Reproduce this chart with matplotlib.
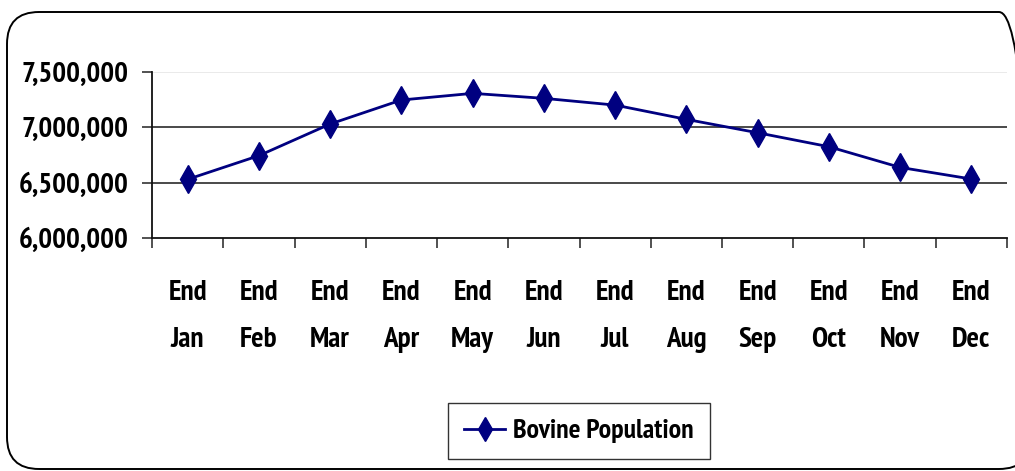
import matplotlib
matplotlib.use("Agg")
import matplotlib.pyplot as plt
from matplotlib.patches import FancyBboxPatch
from matplotlib.ticker import FuncFormatter, FixedLocator
from matplotlib import font_manager

months = ["Jan", "Feb", "Mar", "Apr", "May", "Jun",
          "Jul", "Aug", "Sep", "Oct", "Nov", "Dec"]
categories = ["End\n" + m for m in months]
population = [6530000, 6744000, 7030000, 7247000, 7307000, 7262000,
              7201000, 7072000, 6951000, 6825000, 6638000, 6533000]
y_ticks = [6000000, 6500000, 7000000, 7500000]
series_name = "Bovine Population"

available = {f.name for f in font_manager.fontManager.ttflist}
family = "DejaVu Sans"
for cand in ["PT Sans Narrow", "Roboto Condensed", "Open Sans Condensed",
             "Liberation Sans Narrow", "Arimo"]:
    if cand in available:
        family = cand
        break
plt.rcParams["font.family"] = [family, "DejaVu Sans"]
plt.rcParams["font.weight"] = "bold"

W, H = 1015, 471
fig = plt.figure(figsize=(W / 100, H / 100), dpi=100)

# rounded outer frame (coordinates in inches, 100 px per inch)
frame = FancyBboxPatch((0.07, 0.02), 10.24, 4.57,
                       boxstyle="round,pad=0,rounding_size=0.32",
                       transform=fig.dpi_scale_trans, fill=False,
                       edgecolor="black", linewidth=1.4)
fig.patches.append(frame)

ax = fig.add_axes([152 / W, 1 - 238 / H, (1007 - 152) / W, (238 - 72) / H])
x = list(range(len(categories)))
ax.plot(x, population, color="#000080", linewidth=2.0, marker="d",
        markersize=14, markerfacecolor="#000080", markeredgecolor="#000080",
        label=series_name, zorder=3)

ax.set_xlim(-0.5, len(categories) - 0.5)
ax.set_ylim(y_ticks[0], y_ticks[-1])
ax.yaxis.set_major_locator(FixedLocator(y_ticks))
ax.yaxis.set_major_formatter(FuncFormatter(lambda v, p: f"{int(v):,}"))

for v in y_ticks[1:-1]:
    ax.axhline(v, color="#3a3a3a", linewidth=1.3, zorder=1)
ax.axhline(y_ticks[-1], color="#e6e6e6", linewidth=1.2, zorder=1)

ax.set_xticks(x)
ax.set_xticklabels(categories, fontsize=21, fontweight="bold", linespacing=2.05)
ax.set_xticks([i - 0.5 for i in range(len(categories) + 1)], minor=True)
ax.tick_params(axis="x", which="major", length=0, pad=30)
ax.tick_params(axis="x", which="minor", length=7, width=1.2, color="#333333")
ax.tick_params(axis="y", length=7, width=1.2, color="#333333", labelsize=21, pad=10)
for lbl in ax.get_yticklabels():
    lbl.set_fontweight("bold")

for side in ["top", "right"]:
    ax.spines[side].set_visible(False)
ax.spines["left"].set_color("#111111")
ax.spines["bottom"].set_color("#111111")
ax.spines["left"].set_linewidth(1.3)
ax.spines["bottom"].set_linewidth(1.3)

leg = fig.legend(loc="center", bbox_to_anchor=(579 / W, 1 - 431 / H),
                 frameon=True, fancybox=False, edgecolor="black",
                 handlelength=1.45, handletextpad=0.3, borderpad=0.58,
                 borderaxespad=0, markerscale=0.85,
                 prop={"weight": "bold", "size": 20})
leg.get_frame().set_linewidth(1.0)

fig.savefig("out.png", dpi=100)
